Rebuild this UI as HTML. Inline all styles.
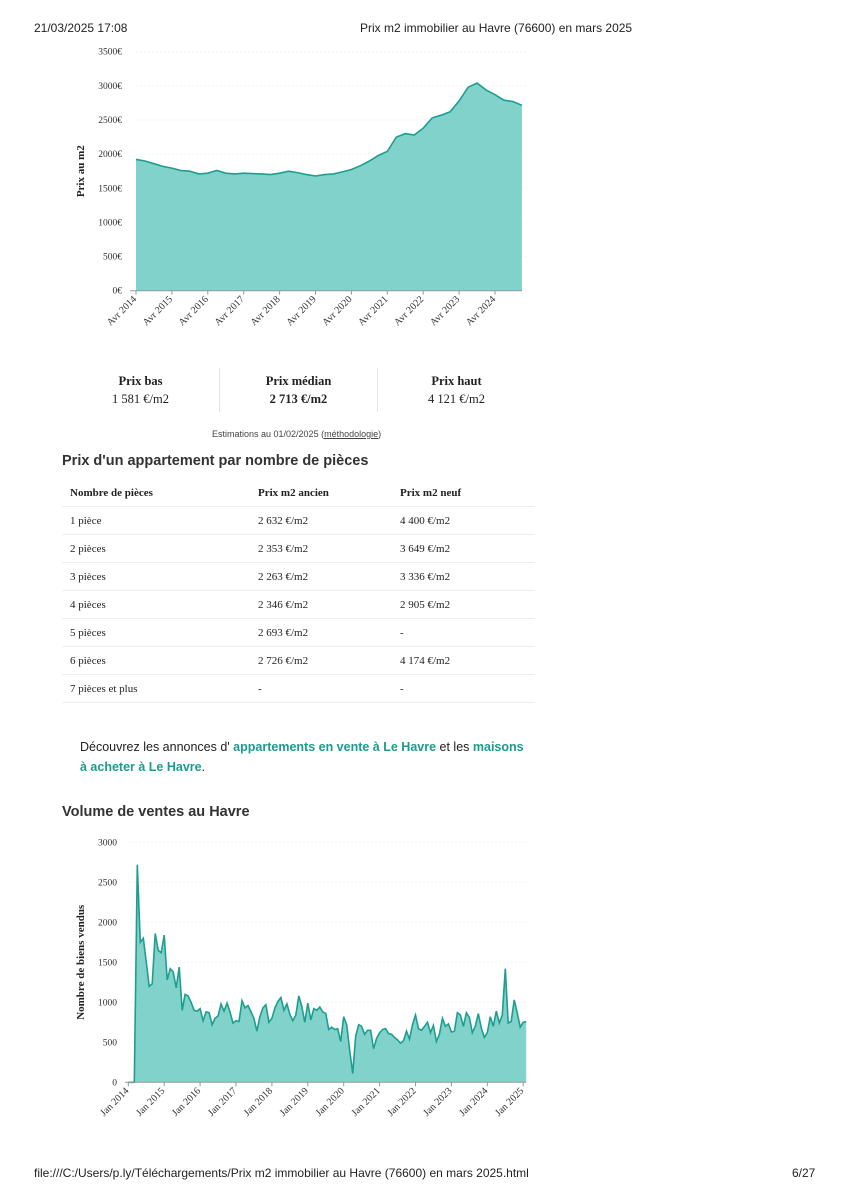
<!DOCTYPE html>
<html><head><meta charset="utf-8"><style>
body{margin:0;width:848px;height:1200px;background:#fff;position:relative;font-family:"Liberation Sans",sans-serif;color:#222;overflow:hidden}
.a{position:absolute;white-space:nowrap}
.serif{font-family:"Liberation Serif",serif}
.row{position:absolute;left:62px;width:473px;height:28px;border-bottom:1px solid #eee;font-family:"Liberation Serif",serif;font-size:11px}
.row span{position:absolute;top:9px}
a{color:#1a9c8c;font-weight:bold}
</style></head><body>
<div class="a" style="left:34px;top:21px;font-size:12px">21/03/2025 17:08</div>
<div class="a" style="left:360px;top:21px;font-size:12px">Prix m2 immobilier au Havre (76600) en mars 2025</div>

<svg class="a" style="left:0;top:40px" width="560" height="310" id="c1"></svg>

<div class="a serif" style="left:62px;top:372px;width:157px;text-align:center;font-size:12.5px;line-height:18px"><b>Prix bas</b><br>1 581 €/m2</div>
<div class="a" style="left:219px;top:368px;width:1px;height:44px;background:#e4e4e4"></div>
<div class="a serif" style="left:220px;top:372px;width:157px;text-align:center;font-size:12.5px;line-height:18px"><b>Prix médian</b><br><b>2 713 €/m2</b></div>
<div class="a" style="left:377px;top:368px;width:1px;height:44px;background:#e4e4e4"></div>
<div class="a serif" style="left:378px;top:372px;width:157px;text-align:center;font-size:12.5px;line-height:18px"><b>Prix haut</b><br>4 121 €/m2</div>
<div class="a" style="left:212px;top:429px;font-size:9px;color:#444">Estimations au 01/02/2025 (<u>méthodologie</u>)</div>

<div class="a" style="left:62px;top:453px;font-size:14.5px;font-weight:bold;color:#333">Prix d'un appartement par nombre de pièces</div>
<div>
<div class="row" style="top:478px"><span style="left:8px"><b>Nombre de pièces</b></span><span style="left:196px"><b>Prix m2 ancien</b></span><span style="left:338px"><b>Prix m2 neuf</b></span></div>
<div class="row" style="top:506px"><span style="left:8px">1 pièce</span><span style="left:196px">2 632 €/m2</span><span style="left:338px">4 400 €/m2</span></div>
<div class="row" style="top:534px"><span style="left:8px">2 pièces</span><span style="left:196px">2 353 €/m2</span><span style="left:338px">3 649 €/m2</span></div>
<div class="row" style="top:562px"><span style="left:8px">3 pièces</span><span style="left:196px">2 263 €/m2</span><span style="left:338px">3 336 €/m2</span></div>
<div class="row" style="top:590px"><span style="left:8px">4 pièces</span><span style="left:196px">2 346 €/m2</span><span style="left:338px">2 905 €/m2</span></div>
<div class="row" style="top:618px"><span style="left:8px">5 pièces</span><span style="left:196px">2 693 €/m2</span><span style="left:338px">-</span></div>
<div class="row" style="top:646px"><span style="left:8px">6 pièces</span><span style="left:196px">2 726 €/m2</span><span style="left:338px">4 174 €/m2</span></div>
<div class="row" style="top:674px"><span style="left:8px">7 pièces et plus</span><span style="left:196px">-</span><span style="left:338px">-</span></div>
</div>

<div class="a" style="left:80px;top:737px;font-size:12.5px;line-height:20px;white-space:normal;width:450px">Découvrez les annonces d' <a>appartements en vente à Le Havre</a> et les <a>maisons à acheter à Le Havre</a>.</div>

<div class="a" style="left:62px;top:804px;font-size:14.5px;font-weight:bold;color:#333">Volume de ventes au Havre</div>
<svg class="a" style="left:0;top:830px" width="560" height="310" id="c2"></svg>

<div class="a" style="left:34px;top:1166px;font-size:12px">file:///C:/Users/p.ly/Téléchargements/Prix m2 immobilier au Havre (76600) en mars 2025.html</div>
<div class="a" style="left:792px;top:1166px;font-size:12px">6/27</div>

<script>
// Chart 1: quarterly price (€/m2) from Apr 2014
const priceValues = [1923,1900,1860,1820,1795,1760,1750,1710,1720,1760,1720,1710,1720,1715,1710,1700,1720,1750,1730,1700,1680,1700,1710,1740,1775,1830,1900,1980,2040,2250,2300,2280,2380,2530,2570,2620,2780,2980,3040,2940,2870,2790,2770,2715];
const priceTicks = [0,500,1000,1500,2000,2500,3000,3500];
const priceXLabels = ["Avr 2014","Avr 2015","Avr 2016","Avr 2017","Avr 2018","Avr 2019","Avr 2020","Avr 2021","Avr 2022","Avr 2023","Avr 2024"];
// Chart 2: monthly sales from Jan 2014
const salesValues = [0,0,0,2720,1750,1800,1500,1200,1230,1860,1650,1620,
1840,1280,1420,1380,1180,1440,900,1100,1080,1000,900,890,
920,770,880,870,720,800,830,980,890,990,880,740,
770,760,1020,930,960,880,800,640,820,930,970,750,
800,930,1010,1060,900,980,850,770,840,1080,950,750,
990,780,920,900,940,880,860,660,690,660,670,510,
820,720,400,110,580,720,700,600,650,650,420,550,
620,660,670,610,600,560,530,490,520,640,540,720,
840,670,650,700,750,620,710,510,600,800,700,730,
630,640,870,840,700,870,810,620,700,860,680,560,
620,820,700,890,740,840,1420,740,760,1030,870,690,
750,760];
const salesTicks = [0,500,1000,1500,2000,2500,3000];
const salesXLabels = ["Jan 2014","Jan 2015","Jan 2016","Jan 2017","Jan 2018","Jan 2019","Jan 2020","Jan 2021","Jan 2022","Jan 2023","Jan 2024","Jan 2025"];

const NS="http://www.w3.org/2000/svg";
function mk(svg,tag,attrs){const e=document.createElementNS(NS,tag);for(const k in attrs)e.setAttribute(k,attrs[k]);svg.appendChild(e);return e;}

function drawChart(svg,o){
  const y=v=>o.y0-(v/o.ymax)*(o.y0-o.y1);
  o.ticks.forEach(t=>{
    const g=mk(svg,'line',{x1:o.xl,x2:o.xr,y1:y(t),y2:y(t),stroke:'#f3f3f3','stroke-dasharray':'2,2'});
    
    
    const tx=mk(svg,'text',{x:o.xl-14,y:y(t)+3,'text-anchor':'end','font-size':'9.5','font-family':'Liberation Serif, serif',fill:'#333'});
    tx.textContent=t+o.unit;
    
    
  });
  let d='';
  o.values.forEach((v,i)=>{d+=(i?'L':'M')+o.x(i).toFixed(1)+','+y(v).toFixed(1);});
  const n=o.values.length-1;
  const area=mk(svg,'path',{d:d+'L'+o.x(n)+','+o.y0+'L'+o.x(0)+','+o.y0+'Z',fill:'#80d2ca'});
  
  
  const line=mk(svg,'path',{d:d,fill:'none',stroke:'#1e9e90','stroke-width':'1.6'});
  
  
  const ax=mk(svg,'line',{x1:o.xl-6,x2:o.x(n),y1:o.y0,y2:o.y0,stroke:'#999'});
  
  
  o.labels.forEach((l,i)=>{
    const px=o.lx(i);
    mk(svg,'line',{x1:px,x2:px,y1:o.y0,y2:o.y0+4,stroke:'#999'});
    const t=mk(svg,'text',{x:px+1,y:o.y0+9,'text-anchor':'end','font-size':'10','font-family':'Liberation Serif, serif',fill:'#333',transform:'rotate(-45 '+(px+1)+' '+(o.y0+9)+')'});
    t.textContent=l;
    
    
  });
  const yt=mk(svg,'text',{x:0,y:0,'text-anchor':'middle','font-size':'11','font-weight':'bold','font-family':'Liberation Serif, serif',fill:'#222',transform:'translate('+o.tx+','+((o.y0+o.y1)/2)+') rotate(-90)'});
  yt.textContent=o.title;
  
  
}
const yr=35.9;
drawChart(document.getElementById('c1'),{values:priceValues,ticks:priceTicks,labels:priceXLabels,ymax:3500,y0:250.7,y1:11.7,xl:136,xr:526,unit:'€',
  x:i=>136+i*yr/4, lx:i=>136+i*yr, title:'Prix au m2', tx:84});
drawChart(document.getElementById('c2'),{values:salesValues,ticks:salesTicks,labels:salesXLabels,ymax:3000,y0:252.3,y1:12.3,xl:131,xr:526,unit:'',
  x:i=>128.3+i*yr/12, lx:i=>128.3+i*yr, title:'Nombre de biens vendus', tx:84});
</script>
</body></html>
